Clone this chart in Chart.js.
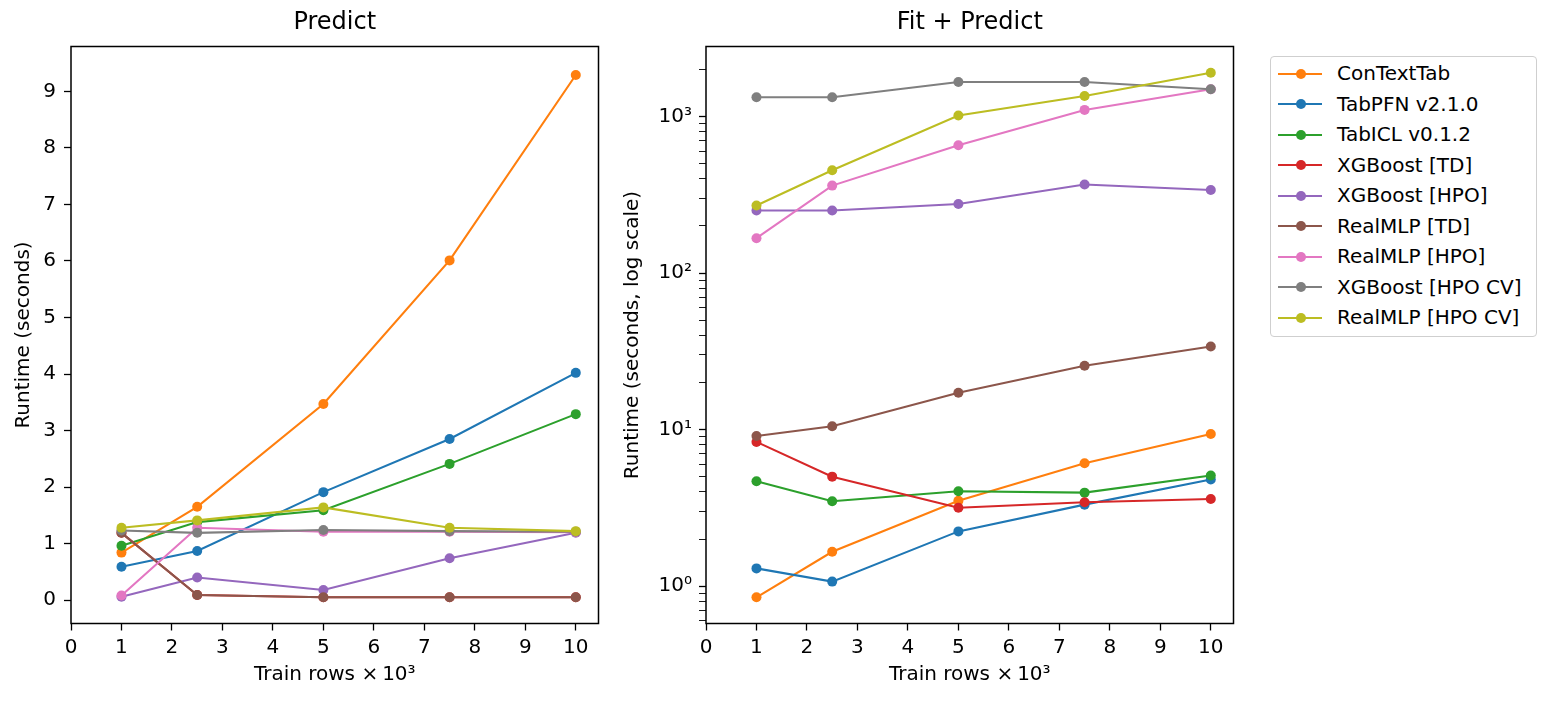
<!DOCTYPE html>
<html>
<head>
<meta charset="utf-8">
<script src="https://cdn.jsdelivr.net/npm/chart.js@4"></script>
<style>
  html, body { margin: 0; padding: 0; background: #fff; }
  body { width: 1553px; height: 705px; position: relative; overflow: hidden; font-family: 'DejaVu Sans', sans-serif; }
  .panel { position: absolute; top: 0; height: 705px; }
  #legend { position: absolute; left: 1270px; top: 56px; width: 267px; height: 281px;
            border: 1px solid #cfcfcf; border-radius: 4px; box-sizing: border-box; background: #fff; }
  .row { position: absolute; left: 0; height: 30px; width: 100%; }
  .row .ln { position: absolute; left: 7px; width: 44px; height: 2px; top: 14px; }
  .row .dot { position: absolute; left: 24.5px; top: 10px; width: 10px; height: 10px; border-radius: 50%; }
  .row .txt { position: absolute; left: 66px; top: 2.5px; font-size: 20px; line-height: 24px; color: #000; white-space: nowrap; }
</style>
</head>
<body>
<div class="panel" style="left:0; width:620px;"><canvas id="predictChart"></canvas></div>
<div class="panel" style="left:615px; width:640px;"><canvas id="fitChart"></canvas></div>
<div id="legend"></div>
<script>
// train rows (x 10^3)
const trainRows = [1, 2.5, 5, 7.5, 10];

const seriesNames = ['ConTextTab', 'TabPFN v2.1.0', 'TabICL v0.1.2', 'XGBoost [TD]', 'XGBoost [HPO]',
    'RealMLP [TD]', 'RealMLP [HPO]', 'XGBoost [HPO CV]', 'RealMLP [HPO CV]'];

// Predict runtime (seconds)
const contextTabPredict = [0.84, 1.65, 3.47, 6.01, 9.29];
const tabpfnPredict = [0.59, 0.87, 1.91, 2.85, 4.02];
const tabiclPredict = [0.96, 1.38, 1.59, 2.41, 3.29];
const xgbTdPredict = [1.19, 0.09, 0.05, 0.05, 0.05];
const xgbHpoPredict = [0.06, 0.40, 0.18, 0.74, 1.19];
const realmlpTdPredict = [1.19, 0.09, 0.05, 0.05, 0.05];
const realmlpHpoPredict = [0.08, 1.28, 1.21, 1.21, 1.20];
const xgbHpoCvPredict = [1.23, 1.19, 1.24, 1.22, 1.21];
const realmlpHpoCvPredict = [1.28, 1.41, 1.64, 1.28, 1.22];

// Fit + predict runtime (seconds)
const contextTabFit = [0.85, 1.66, 3.51, 6.10, 9.39];
const tabpfnFit = [1.30, 1.07, 2.24, 3.32, 4.80];
const tabiclFit = [4.68, 3.49, 4.04, 3.96, 5.09];
const xgbTdFit = [8.35, 5.01, 3.17, 3.44, 3.61];
const xgbHpoFit = [251, 251, 276, 368, 339];
const realmlpTdFit = [9.12, 10.5, 17.2, 25.6, 34.0];
const realmlpHpoFit = [167, 362, 656, 1102, 1494];
const xgbHpoCvFit = [1328, 1328, 1662, 1662, 1494];
const realmlpHpoCvFit = [270, 454, 1014, 1353, 1905];

const xTicks = [0, 1, 2, 3, 4, 5, 6, 7, 8, 9, 10];
const predictTicks = [0, 1, 2, 3, 4, 5, 6, 7, 8, 9];

const colors = ['#ff7f0e', '#1f77b4', '#2ca02c', '#d62728', '#9467bd',
    '#8c564b', '#e377c2', '#7f7f7f', '#bcbd22'];

const predictSeries = [contextTabPredict, tabpfnPredict, tabiclPredict, xgbTdPredict, xgbHpoPredict,
    realmlpTdPredict, realmlpHpoPredict, xgbHpoCvPredict, realmlpHpoCvPredict];
const fitSeries = [contextTabFit, tabpfnFit, tabiclFit, xgbTdFit, xgbHpoFit,
    realmlpTdFit, realmlpHpoFit, xgbHpoCvFit, realmlpHpoCvFit];

Chart.defaults.font.family = "'DejaVu Sans', sans-serif";
Chart.defaults.color = '#000';

function makeDatasets(series) {
    return series.map((vals, i) => ({
        label: seriesNames[i],
        data: trainRows.map((x, j) => ({ x: x, y: vals[j] })),
        borderColor: colors[i],
        backgroundColor: colors[i],
        pointBackgroundColor: colors[i],
        pointBorderWidth: 0,
        pointRadius: 5,
        borderWidth: 2.1,
        tension: 0,
        order: series.length - i   // later series on top, like matplotlib
    }));
}

// box around the plot area + title centred over it
const frame = {
    id: 'frame',
    afterDraw(chart, args, opts) {
        const a = chart.chartArea, ctx = chart.ctx;
        ctx.save();
        ctx.strokeStyle = '#000';
        ctx.lineWidth = 1.5;
        ctx.strokeRect(a.left, a.top, a.right - a.left, a.bottom - a.top);
        ctx.fillStyle = '#000';
        ctx.font = "24px 'DejaVu Sans', sans-serif";
        ctx.textAlign = 'center';
        ctx.textBaseline = 'middle';
        ctx.fillText(opts.text, (a.left + a.right) / 2, 23);
        ctx.restore();
    }
};

const sup = { '-1': '⁻¹', 0: '⁰', 1: '¹', 2: '²', 3: '³', 4: '⁴' };

function isNiceLog(v) {
    const e = Math.floor(Math.log10(v) + 1e-9);
    const m = v / Math.pow(10, e);
    return Math.abs(m - Math.round(m)) < 1e-6;
}

function xScale() {
    return {
        type: 'linear',
        min: 0,
        max: 10.45,
        afterFit(s) { s.height = 81.5; },
        afterBuildTicks(s) { s.ticks = xTicks.map(v => ({ value: v })); },
        grid: { drawOnChartArea: false, drawTicks: true, tickLength: 7, tickWidth: 1.3, tickColor: '#000' },
        border: { display: false },
        ticks: { font: { size: 20 }, padding: 5, autoSkip: false, maxRotation: 0 },
        title: { display: true, text: 'Train rows ×\u200910³', font: { size: 20 }, padding: { top: 0, bottom: 18 } }
    };
}

function plugins(title) {
    return {
        legend: { display: false },
        tooltip: { enabled: false },
        title: { display: false },
        frame: { text: title }
    };
}

new Chart(document.getElementById('predictChart'), {
    type: 'line',
    data: { datasets: makeDatasets(predictSeries) },
    options: {
        responsive: true,
        maintainAspectRatio: false,
        animation: false,
        layout: { padding: { left: 0, right: 21.5, top: 46.5, bottom: 0 } },
        plugins: plugins('Predict'),
        scales: {
            x: xScale(),
            y: {
                type: 'linear',
                min: -0.414,
                max: 9.794,
                afterFit(s) { s.width = 71; },
                afterBuildTicks(s) { s.ticks = predictTicks.map(v => ({ value: v })); },
                grid: { drawOnChartArea: false, drawTicks: true, tickLength: 7, tickWidth: 1.3, tickColor: '#000' },
                border: { display: false },
                ticks: { font: { size: 20 }, padding: 8 },
                title: { display: true, text: 'Runtime (seconds)', font: { size: 20 }, padding: { top: 12, bottom: 0 } }
            }
        }
    },
    plugins: [frame]
});

new Chart(document.getElementById('fitChart'), {
    type: 'line',
    data: { datasets: makeDatasets(fitSeries) },
    options: {
        responsive: true,
        maintainAspectRatio: false,
        animation: false,
        layout: { padding: { left: 0, right: 21.5, top: 46.5, bottom: 0 } },
        plugins: plugins('Fit + Predict'),
        scales: {
            x: xScale(),
            y: {
                type: 'logarithmic',
                min: 0.578,
                max: 2800,
                afterFit(s) { s.width = 91; },
                grid: {
                    drawOnChartArea: false, drawTicks: true, tickLength: 7,
                    tickWidth: c => (c.tick && Number.isInteger(Math.log10(c.tick.value)) ? 1.3 : 0.9),
                    tickColor: c => (c.tick && isNiceLog(c.tick.value) ? '#000' : 'rgba(0,0,0,0)')
                },
                border: { display: false },
                ticks: {
                    font: { size: 20 },
                    padding: 7,
                    autoSkip: false,
                    callback(v) {
                        const e = Math.log10(v);
                        if (Math.abs(e - Math.round(e)) < 1e-9) return '10' + sup[Math.round(e)];
                        return '';
                    }
                },
                title: { display: true, text: 'Runtime (seconds, log scale)', font: { size: 20 }, padding: { top: 6, bottom: 0 } }
            }
        }
    },
    plugins: [frame]
});

// legend
const legend = document.getElementById('legend');
seriesNames.forEach((name, i) => {
    const row = document.createElement('div');
    row.className = 'row';
    row.style.top = (1.8 + 30.5 * i) + 'px';
    row.innerHTML = '<div class="ln" style="background:' + colors[i] + '"></div>' +
        '<div class="dot" style="background:' + colors[i] + '"></div>' +
        '<div class="txt"></div>';
    row.querySelector('.txt').textContent = name;
    legend.appendChild(row);
});
</script>
</body>
</html>
